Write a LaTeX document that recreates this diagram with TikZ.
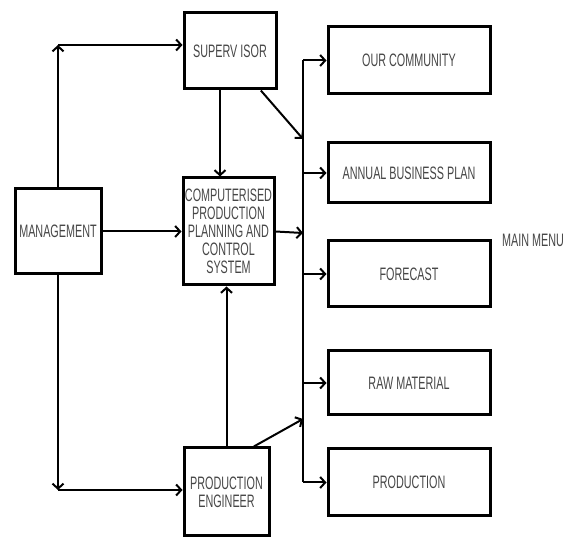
\documentclass[tikz,border=0pt]{standalone}
\usepackage{xcolor}
\usepackage{fontspec}
\usepackage{tikz}
\usetikzlibrary{positioning,arrows.meta}
\newfontfamily\boxfont[FakeStretch=0.6]{Liberation Sans}
\definecolor{txtgray}{RGB}{70,70,70}

\begin{document}
\begin{tikzpicture}[x=1pt,y=-1pt,
      box/.style={rectangle,draw,line width=3pt,inner sep=0pt,align=center,
        font=\boxfont\fontsize{18}{18}\selectfont,text=txtgray},
      ln/.style={line width=2pt},
      arr/.style={ln,-{Straight Barb[length=5pt,width=11pt]}}]
    \useasboundingbox (0,0) rectangle (563,537);
    % left and middle column
    \node[box,minimum width=86pt,minimum height=85pt] (mgmt) at (58,231.5) {MANAGEMENT};
    \node[box,minimum width=92pt,minimum height=76pt] (sup) at (230,51) {SUPERV ISOR};
    \node[box,minimum width=91pt,minimum height=107pt] (cppcs) at (228.5,231.5)
      {COMPUTERISED\\PRODUCTION\\PLANNING AND\\CONTROL\\SYSTEM};
    \node[box,minimum width=85pt,minimum height=88pt] (pe) at (226.5,492) {PRODUCTION\\ENGINEER};
    % main menu boxes on the right
    \foreach \n/\t/\y/\h in {oc/OUR COMMUNITY/60.5/67,abp/ANNUAL BUSINESS PLAN/173/60,
        fc/FORECAST/274/66,rm/RAW MATERIAL/383/64,pr/PRODUCTION/482.5/67} {
      \node[box,minimum width=162pt,minimum height=\h pt] (\n) at (409,\y) {\t};
      \coordinate (b\n) at (303,\y);
      \draw[arr] (b\n) -- (\n.west);
    }
    \draw[ln] (boc) -- (bpr);
    \node[anchor=west,inner sep=0pt,font=\boxfont\fontsize{18}{18}\selectfont,text=txtgray]
      (menu) at (502,240) {MAIN MENU};
    % management branches
    \coordinate (cup) at (58,45);
    \coordinate (cdn) at (58,490);
    \draw[arr] (mgmt.north) -- (cup);
    \draw[arr] (cup) -- (cup -| sup.west);
    \draw[arr] (mgmt.south) -- (cdn);
    \draw[arr] (cdn) -- (cdn -| pe.west);
    \draw[arr] (mgmt.east) -- (cppcs.west);
    % into the computerised system
    \draw[arr] ([xshift=-10pt]sup.south) -- ([xshift=-10pt]sup.south |- cppcs.north);
    \draw[arr] (pe.north) -- (pe.north |- cppcs.south);
    % onto the menu line
    \coordinate (in1) at (303,139);
    \coordinate (in2) at (303,233);
    \coordinate (in3) at (303,419);
    \draw[arr] (sup.-52) -- (in1);
    \draw[arr] (cppcs.east) -- (in2);
    \draw[arr] (pe.59) -- (in3);
  \end{tikzpicture}
\end{document}
